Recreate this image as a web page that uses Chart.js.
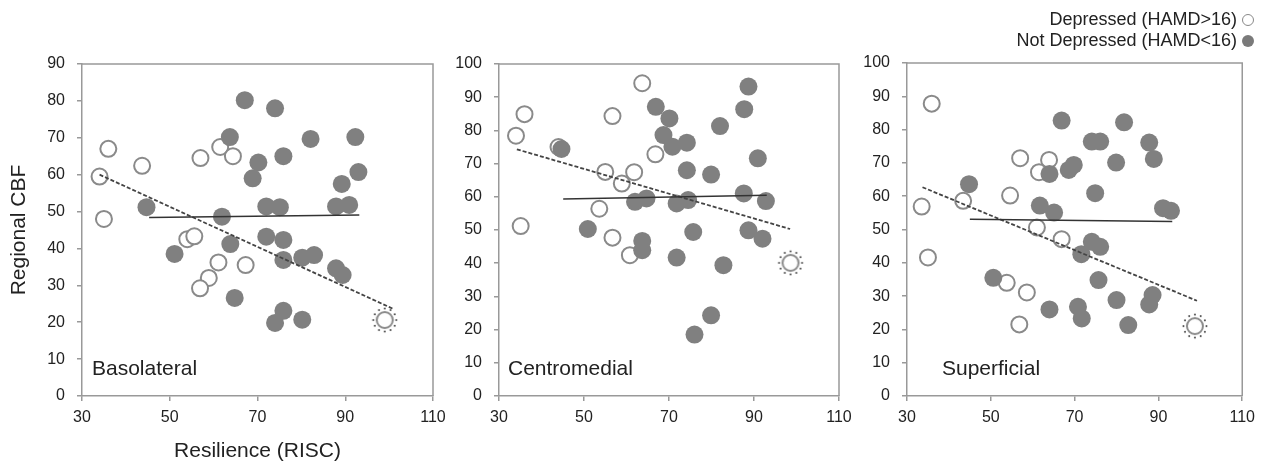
<!DOCTYPE html>
<html>
<head>
<meta charset="utf-8">
<script src="https://cdn.jsdelivr.net/npm/chart.js@4.4.1/dist/chart.umd.min.js"></script>
<style>
  body { margin: 0; background: #fff; font-family: "Liberation Sans", Arial, sans-serif; }
  #wrap { position: relative; width: 1262px; height: 466px; overflow: hidden; }
  #wrap canvas { position: absolute; top: 0; }
  #legend { position: absolute; right: 8px; top: 9px; font-size: 18px; line-height: 21px; color: #222; text-align: right; }
  #legend .dot { display: inline-block; width: 12px; height: 12px; border-radius: 50%; margin-left: 5px; vertical-align: -1px; box-sizing: border-box; }
  #legend .open { border: 1.5px solid #888; background: #fff; }
  #legend .full { background: #7a7a7a; }
</style>
</head>
<body>
<div id="wrap">
  <canvas id="baso" width="460" height="466" style="left:0"></canvas>
  <canvas id="centro" width="420" height="466" style="left:440px"></canvas>
  <canvas id="superf" width="402" height="466" style="left:860px"></canvas>
  <div id="legend">
    <div>Depressed (HAMD&gt;16)<span class="dot open"></span></div>
    <div>Not Depressed (HAMD&lt;16)<span class="dot full"></span></div>
  </div>
</div>
<script>
// Basolateral
var basoDepX = [34, 36, 35, 43.7, 57, 61.5, 64.4, 54, 55.6, 61.1, 58.9, 56.9, 67.3, 99];
var basoDepY = [59.5, 67, 48, 62.4, 64.5, 67.5, 65, 42.5, 43.3, 36.2, 32, 29.2, 35.5, 20.6];
var basoNotX = [67.1, 74, 63.7, 82.1, 92.3, 70.2, 68.9, 75.9, 93, 89.2, 44.7, 61.9, 72, 75.1, 87.9, 90.9, 51.1, 63.8, 72, 75.9, 75.9, 80.2, 82.9, 87.9, 89.4, 64.8, 75.9, 74, 80.2];
var basoNotY = [80.2, 78, 70.2, 69.7, 70.2, 63.3, 59, 65, 60.7, 57.5, 51.2, 48.6, 51.4, 51.2, 51.4, 51.8, 38.5, 41.2, 43.2, 42.3, 36.9, 37.5, 38.2, 34.6, 32.8, 26.6, 23.1, 19.8, 20.7];
var basoFitNotX = [45.3, 93.2], basoFitNotY = [48.4, 49.1];
var basoFitAllX = [34, 100.8], basoFitAllY = [60, 23.7];

// Centromedial
var centroDepX = [34, 36, 35.1, 63.7, 56.7, 66.8, 55, 61.8, 58.9, 53.6, 56.7, 60.8, 44, 98.6];
var centroDepY = [78.4, 84.9, 51.2, 94.2, 84.3, 72.8, 67.5, 67.4, 64, 56.4, 47.7, 42.4, 75, 40.1];
var centroNotX = [66.9, 70.1, 68.7, 70.8, 74.2, 82, 88.7, 87.7, 90.9, 74.2, 79.9, 44.7, 62, 64.7, 71.8, 74.5, 87.6, 92.8, 50.9, 63.7, 63.7, 75.7, 88.7, 92, 71.8, 82.8, 79.9, 76];
var centroNotY = [87.1, 83.6, 78.6, 75.1, 76.3, 81.3, 93.2, 86.4, 71.6, 68, 66.7, 74.4, 58.5, 59.5, 58, 59, 61, 58.7, 50.3, 46.7, 43.9, 49.4, 49.9, 47.4, 41.7, 39.4, 24.3, 18.5];
var centroFitNotX = [45.1, 93], centroFitNotY = [59.3, 60.5];
var centroFitAllX = [34.2, 98.5], centroFitAllY = [74.3, 50.3];

// Superficial
var superfDepX = [33.5, 35.9, 35, 43.4, 54.6, 57, 61.5, 63.9, 61, 66.9, 53.8, 58.6, 56.8, 98.7];
var superfDepY = [56.9, 87.8, 41.6, 58.6, 60.2, 71.4, 67.2, 70.9, 50.6, 47.1, 34, 31.1, 21.5, 21];
var superfNotX = [66.9, 81.8, 74.1, 76.1, 87.8, 88.9, 79.9, 69.8, 68.6, 64, 44.8, 74.9, 61.7, 65.1, 91.1, 93, 74.1, 76.1, 71.6, 75.7, 50.6, 80, 88.6, 87.8, 64, 70.8, 71.7, 82.8];
var superfNotY = [82.7, 82.2, 76.4, 76.4, 76.1, 71.2, 70.1, 69.4, 67.9, 66.7, 63.6, 60.9, 57.2, 55.1, 56.4, 55.6, 46.3, 44.8, 42.6, 34.8, 35.5, 28.8, 30.3, 27.5, 26, 26.8, 23.3, 21.3];
var superfFitNotX = [45, 93.3], superfFitNotY = [53.1, 52.4];
var superfFitAllX = [33.7, 99.2], superfFitAllY = [62.7, 28.6];

var outlierIndex = 13; // last depressed subject, drawn with a dotted ring

var xTicks = { min: 30, max: 110, step: 20 };
var yStep = 10;

function pts(xs, ys) {
  return xs.map(function (x, i) { return { x: x, y: ys[i] }; });
}

// dotted-ring marker for the outlier
var outlierImg = document.createElement('canvas');
outlierImg.width = 30; outlierImg.height = 30;
(function () {
  var c = outlierImg.getContext('2d');
  c.fillStyle = '#fff';
  c.strokeStyle = '#8a8a8a';
  c.lineWidth = 2;
  c.beginPath(); c.arc(15, 15, 8, 0, Math.PI * 2); c.fill(); c.stroke();
  c.fillStyle = '#444';
  for (var k = 0; k < 12; k++) {
    var a = k * Math.PI / 6;
    c.beginPath(); c.arc(15 + 11.5 * Math.cos(a), 15 + 11.5 * Math.sin(a), 1, 0, Math.PI * 2); c.fill();
  }
})();

var frame = {
  id: 'frame',
  afterDraw: function (chart) {
    var a = chart.chartArea, ctx = chart.ctx;
    ctx.save();
    ctx.strokeStyle = '#999';
    ctx.lineWidth = 1.5;
    ctx.beginPath();
    ctx.moveTo(a.left, a.top); ctx.lineTo(a.right, a.top); ctx.lineTo(a.right, a.bottom);
    ctx.stroke();
    ctx.restore();
  }
};

var panelLabel = {
  id: 'panelLabel',
  afterDraw: function (chart, args, o) {
    var a = chart.chartArea, ctx = chart.ctx;
    ctx.save();
    ctx.font = '21px "Liberation Sans", Arial, sans-serif';
    ctx.fillStyle = '#222';
    ctx.textBaseline = 'middle';
    ctx.fillText(o.text, a.left + o.dx, a.bottom - 27);
    ctx.restore();
  }
};

function makePanel(id, p) {
  return new Chart(document.getElementById(id), {
    type: 'scatter',
    data: {
      datasets: [{
        label: 'fit not depressed',
        data: pts(p.fitNotX, p.fitNotY),
        showLine: true, pointRadius: 0,
        borderColor: '#333', borderWidth: 1.5,
        order: 0
      }, {
        label: 'fit all',
        data: pts(p.fitAllX, p.fitAllY),
        showLine: true, pointRadius: 0,
        borderColor: '#444', borderWidth: 1.8, borderDash: [4, 2],
        order: 0
      }, {
        label: 'Not Depressed (HAMD<16)',
        data: pts(p.notX, p.notY),
        pointRadius: 9, pointBorderWidth: 0,
        backgroundColor: '#808080', borderColor: '#808080',
        order: 1
      }, {
        label: 'Depressed (HAMD>16)',
        data: pts(p.depX, p.depY),
        pointRadius: 8, pointBorderWidth: 2,
        backgroundColor: '#fff', borderColor: '#8a8a8a',
        pointStyle: function (c) { return c.dataIndex === outlierIndex ? outlierImg : 'circle'; },
        order: 2
      }]
    },
    options: {
      responsive: false,
      animation: false,
      layout: { padding: { top: p.top, right: p.right, bottom: 0, left: 0 } },
      plugins: {
        legend: { display: false },
        tooltip: { enabled: false },
        panelLabel: { text: p.name, dx: p.dx }
      },
      scales: {
        x: {
          type: 'linear', min: xTicks.min, max: xTicks.max,
          ticks: { stepSize: xTicks.step, color: '#222', font: { size: 16 }, padding: 7 },
          grid: { drawOnChartArea: false, drawTicks: true, tickLength: 5, color: '#999', lineWidth: 1.5 },
          border: { color: '#999', width: 1.5 },
          title: { display: p.xTitle, text: 'Resilience (RISC)', color: '#222', font: { size: 21 }, padding: { top: 0, bottom: 2 } },
          afterFit: function (s) { s.height = 70; }
        },
        y: {
          min: 0, max: p.yMax,
          ticks: { stepSize: yStep, color: '#222', font: { size: 16 }, padding: 12 },
          grid: { drawOnChartArea: false, drawTicks: true, tickLength: 5, color: '#999', lineWidth: 1.5 },
          border: { color: '#999', width: 1.5 },
          title: { display: p.yTitle, text: 'Regional CBF', color: '#222', font: { size: 21 }, padding: { top: 7, bottom: 0 } },
          afterFit: function (s) { s.width = p.yWidth; }
        }
      }
    },
    plugins: [frame, panelLabel]
  });
}

makePanel('baso', {
  name: 'Basolateral', dx: 10, yMax: 90, xTitle: true, yTitle: true,
  top: 64, right: 27, yWidth: 82,
  depX: basoDepX, depY: basoDepY, notX: basoNotX, notY: basoNotY,
  fitNotX: basoFitNotX, fitNotY: basoFitNotY, fitAllX: basoFitAllX, fitAllY: basoFitAllY
});
makePanel('centro', {
  name: 'Centromedial', dx: 9, yMax: 100, xTitle: false, yTitle: false,
  top: 64, right: 21, yWidth: 59,
  depX: centroDepX, depY: centroDepY, notX: centroNotX, notY: centroNotY,
  fitNotX: centroFitNotX, fitNotY: centroFitNotY, fitAllX: centroFitAllX, fitAllY: centroFitAllY
});
makePanel('superf', {
  name: 'Superficial', dx: 35, yMax: 100, xTitle: false, yTitle: false,
  top: 63, right: 17, yWidth: 47,
  depX: superfDepX, depY: superfDepY, notX: superfNotX, notY: superfNotY,
  fitNotX: superfFitNotX, fitNotY: superfFitNotY, fitAllX: superfFitAllX, fitAllY: superfFitAllY
});
</script>
</body>
</html>
